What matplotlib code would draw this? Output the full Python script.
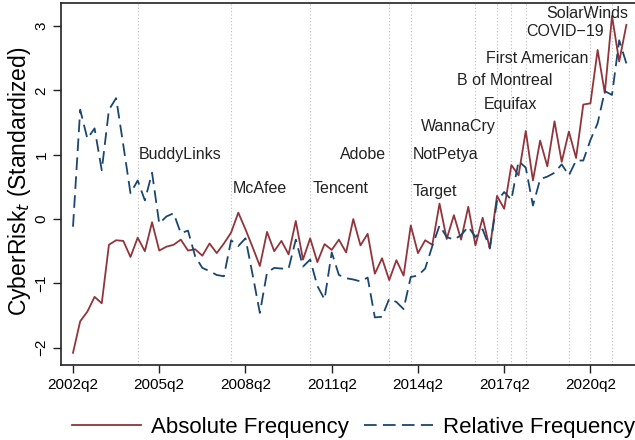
import matplotlib
matplotlib.use('Agg')
import matplotlib.pyplot as plt
import numpy as np

plt.rcParams['font.family'] = ['Liberation Sans', 'DejaVu Sans']

# quarterly index: 0 = 2002q2 ... 77 = 2021q3
absolute = [-2.08, -1.59, -1.44, -1.21, -1.31, -0.40, -0.33, -0.34, -0.59, -0.29,
            -0.50, -0.05, -0.49, -0.43, -0.40, -0.32, -0.49, -0.47, -0.57, -0.38,
            -0.53, -0.38, -0.21, 0.10, -0.16, -0.44, -0.73, -0.20, -0.50, -0.34,
            -0.55, -0.03, -0.63, -0.30, -0.67, -0.39, -0.48, -0.32, -0.52, 0.00,
            -0.41, -0.23, -0.85, -0.61, -0.95, -0.64, -0.88, -0.10, -0.53, -0.33,
            -0.40, 0.24, -0.31, 0.06, -0.32, 0.19, -0.41, 0.02, -0.46, 0.36,
            0.16, 0.84, 0.68, 1.37, 0.60, 1.22, 0.82, 1.52, 0.89, 1.36,
            0.95, 1.78, 1.80, 2.63, 1.96, 3.16, 2.45, 3.02]
relative = [-0.12, 1.70, 1.25, 1.41, 0.76, 1.70, 1.88, 1.15, 0.40, 0.60,
            0.29, 0.72, -0.07, 0.04, 0.09, -0.22, -0.18, -0.58, -0.76, -0.81,
            -0.87, -0.89, -0.33, -0.42, -0.30, -0.87, -1.46, -0.83, -0.76, -0.77,
            -0.77, -0.32, -0.74, -0.63, -1.04, -1.25, -0.52, -0.87, -0.92, -0.94,
            -0.97, -0.91, -1.53, -1.52, -1.24, -1.29, -1.40, -0.90, -0.88, -0.77,
            -0.42, -0.10, -0.28, -0.32, -0.25, -0.12, -0.28, -0.16, -0.45, 0.28,
            0.42, 0.30, 0.90, 0.80, 0.21, 0.62, 0.66, 0.72, 0.85, 0.68,
            0.91, 0.91, 1.23, 1.49, 1.99, 1.93, 2.78, 2.42]
quarters = np.arange(len(absolute))

tick_pos = [0, 12, 24, 36, 48, 60, 72]
tick_labels = ['2002q2', '2005q2', '2008q2', '2011q2', '2014q2', '2017q2', '2020q2']

event_lines = [9, 22, 33, 44, 47, 56, 59, 61, 63, 69, 72, 75]
event_names = ['BuddyLinks', 'McAfee', 'Tencent', 'Adobe', 'NotPetya', 'Target',
               'WannaCry', 'B of Montreal', 'Equifax', 'First American',
               'COVID\u221219', 'SolarWinds']
event_x = [9.2, 22.2, 33.3, 37.2, 47.3, 47.3, 48.4, 53.4, 57.2, 57.4, 63.1, 65.9]
event_y = [1.0, 0.48, 0.48, 1.0, 1.0, 0.43, 1.44, 2.15, 1.78, 2.49, 2.91, 3.19]

red = '#90353B'
blue = '#1A476F'

fig = plt.figure(figsize=(6.35, 4.4), dpi=100)
ax = fig.add_axes([61/635, 1 - 365/440, 1 - 61/635, (365 - 3)/440])

for t in event_lines:
    ax.axvline(t, color='#bbbbbb', linestyle=(0, (1, 2)), lw=0.8, zorder=1)

ax.plot(quarters, absolute, color=red, lw=1.3, label='Absolute Frequency', zorder=3)
ax.plot(quarters, relative, color=blue, lw=1.3, dashes=(7, 3.5),
        label='Relative Frequency', zorder=3)

for name, x, y in zip(event_names, event_x, event_y):
    ax.text(x, y, name, fontsize=11.5, ha='left', va='center', color='#222222')

ax.set_xlim(-1.67, 78.2)
ax.set_ylim(-2.27, 3.36)
ax.set_xticks(tick_pos)
ax.set_xticklabels(tick_labels, fontsize=11)
ax.set_yticks([-2, -1, 0, 1, 2, 3])
ax.set_yticklabels(['\u22122', '\u22121', '0', '1', '2', '3'], fontsize=11,
                   rotation=90, va='center')
ax.tick_params(axis='both', direction='out', length=6, width=1, color='#222222')
ax.tick_params(axis='y', pad=3)
fig.text(20/635, 1 - 181/440, 'CyberRisk$_t$ (Standardized)', fontsize=16.5,
         rotation=90, ha='center', va='center')
ax.spines['right'].set_visible(False)
for s in ['left', 'bottom', 'top']:
    ax.spines[s].set_linewidth(1.2)
    ax.spines[s].set_color('#222222')

fig.legend(loc='center', bbox_to_anchor=(0.557, 1 - 427/440), ncol=2, frameon=False,
           fontsize=16, handlelength=3.1, columnspacing=0.7, handletextpad=0.45,
           borderpad=0, borderaxespad=0)

fig.savefig('out.png', dpi=100)
